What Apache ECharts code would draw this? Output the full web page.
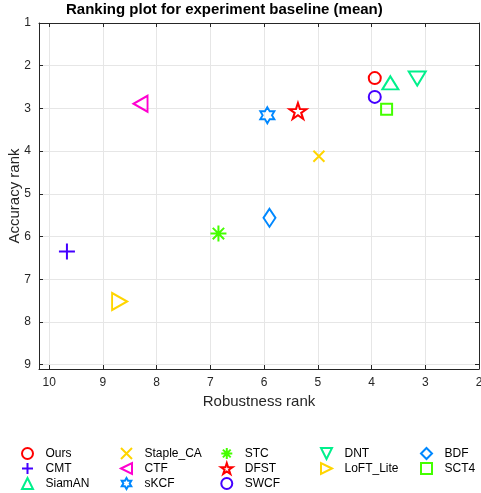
<!DOCTYPE html>
<html><head><meta charset="utf-8">
<script src="https://cdn.jsdelivr.net/npm/echarts@6/dist/echarts.min.js"></script>
<style>html,body{margin:0;padding:0;background:#fff}#c{width:481px;height:493px}</style>
</head><body><div id="c"></div>
<script>
// ---- data ----
const trackers = ['Ours','CMT','SiamAN','Staple_CA','CTF','sKCF','STC','DFST','SWCF','DNT','LoFT_Lite','BDF','SCT4'];
const robustnessRank = [3.94, 9.67, 3.65, 4.98, 8.30, 5.94, 6.85, 5.37, 3.94, 3.15, 8.69, 5.90, 3.72];
const accuracyRank   = [2.29, 6.35, 2.40, 4.12, 2.89, 3.16, 5.93, 3.06, 2.73, 2.30, 7.52, 5.56, 3.02];
const xTickLabels = [2, 3, 4, 5, 6, 7, 8, 9, 10];
const yTickLabels = [1, 2, 3, 4, 5, 6, 7, 8, 9];
const legendColumns = [
  ['Ours','CMT','SiamAN'],
  ['Staple_CA','CTF','sKCF'],
  ['STC','DFST','SWCF'],
  ['DNT','LoFT_Lite'],
  ['BDF','SCT4']
];

// ---- styles ----
const colors = ['#ff0000','#4400ff','#00f08c','#ffd500','#ff00d0','#0088ff','#44ff00','#ff0000','#4400ff','#00f08c','#ffd500','#0088ff','#44ff00'];
const markerKinds = ['circle','plus','triUp','cross','triLeft','hexagram','asterisk','pentagram','circle','triDown','triRight','diamond','square'];
const markerSizes = [[12,12],[16,16],[16,13],[11,11],[14,16],[14,16],[16,16],[17,16],[12,12],[17,14],[15,17],[12,18],[11,11]];
const paths = {
  circle: 'path://M1,0A1,1,0,1,1,-1,0A1,1,0,1,1,1,0Z',
  plus: 'path://M0,-1L0,1M-1,0L1,0',
  cross: 'path://M-1,-1L1,1M-1,1L1,-1',
  asterisk: 'path://M0,-1L0,1M-1,0L1,0M-0.71,-0.71L0.71,0.71M-0.71,0.71L0.71,-0.71',
  triUp: 'path://M0,-1L1,1L-1,1Z',
  triDown: 'path://M0,1L1,-1L-1,-1Z',
  triLeft: 'path://M-1,0L1,-1L1,1Z',
  triRight: 'path://M1,0L-1,-1L-1,1Z',
  diamond: 'path://M0,-1L1,0L0,1L-1,0Z',
  square: 'path://M-1,-1L1,-1L1,1L-1,1Z',
  hexagram: 'path://M0,-1L0.289,-0.5L0.866,-0.5L0.577,0L0.866,0.5L0.289,0.5L0,1L-0.289,0.5L-0.866,0.5L-0.577,0L-0.866,-0.5L-0.289,-0.5Z',
  pentagram: 'path://M0,-1L0.2245,-0.309L0.951,-0.309L0.363,0.118L0.588,0.809L0,0.382L-0.588,0.809L-0.363,0.118L-0.951,-0.309L-0.2245,-0.309Z'
};

const FONT = '"Liberation Sans", Arial, Helvetica, sans-serif';
const TXT = '#262626';

const series = trackers.map((name, i) => ({
  name: name,
  type: 'scatter',
  data: [[robustnessRank[i], accuracyRank[i]]],
  symbol: paths[markerKinds[i]],
  symbolSize: markerSizes[i],
  itemStyle: { color: 'rgba(0,0,0,0)', borderColor: colors[i], borderWidth: 2, opacity: 1 },
  emphasis: { disabled: true },
  z: 5
}));

const legendLefts = [21, 120, 220, 320, 420];
const legends = legendColumns.map((col, k) => ({
  orient: 'vertical',
  left: legendLefts[k],
  top: 447,
  padding: 0,
  itemWidth: 26,
  itemHeight: 11,
  itemGap: 2,
  selectedMode: false,
  data: col,
  textStyle: { fontFamily: FONT, fontSize: 12, color: '#000', lineHeight: 12.5 }
}));

const axisCommon = {
  type: 'value',
  axisLine: { show: true, lineStyle: { color: TXT, width: 1 } },
  axisTick: { show: true, inside: true, length: 4, lineStyle: { color: TXT } },
  minorTick: { show: false }
};

const option = {
  animation: false,
  backgroundColor: '#fff',
  title: {
    text: 'Ranking plot for experiment baseline (mean)',
    left: 66, top: 2, padding: 0,
    textStyle: { fontFamily: FONT, fontSize: 15, fontWeight: 'bold', color: '#000' }
  },
  legend: legends,
  grid: { left: 39, right: 2, top: 23, bottom: 124, containLabel: false, outerBoundsMode: 'none' },
  xAxis: [
    Object.assign({}, axisCommon, {
      position: 'bottom', inverse: true, min: 2, max: 10.19, interval: 1,
      name: 'Robustness rank', nameLocation: 'middle', nameGap: 24,
      nameTextStyle: { fontFamily: FONT, fontSize: 15, color: TXT },
      axisLabel: { margin: 8, fontFamily: FONT, fontSize: 12, color: TXT, hideOverlap: false,
        formatter: v => xTickLabels.indexOf(v) >= 0 ? String(v) : '' },
      splitLine: { show: true, lineStyle: { color: '#e6e6e6', width: 1 } }
    }),
    Object.assign({}, axisCommon, {
      position: 'top', inverse: true, min: 2, max: 10.19, interval: 1,
      axisLabel: { show: false }, splitLine: { show: false }
    })
  ],
  yAxis: [
    Object.assign({}, axisCommon, {
      position: 'left', inverse: true, min: 1, max: 9.1, interval: 1,
      name: 'Accuracy rank', nameLocation: 'middle', nameGap: 17, nameRotate: 90,
      nameMoveOverlap: false,
      nameTextStyle: { fontFamily: FONT, fontSize: 15, color: TXT },
      axisLabel: { margin: 8, fontFamily: FONT, fontSize: 12, color: TXT, hideOverlap: false,
        formatter: v => yTickLabels.indexOf(v) >= 0 ? String(v) : '' },
      splitLine: { show: true, lineStyle: { color: '#e6e6e6', width: 1 } }
    }),
    Object.assign({}, axisCommon, {
      position: 'right', inverse: true, min: 1, max: 9.1, interval: 1,
      axisLabel: { show: false }, splitLine: { show: false }
    })
  ],
  series: series
};

const chart = echarts.init(document.getElementById('c'), null, { renderer: 'canvas' });
chart.setOption(option);
</script>
</body></html>
